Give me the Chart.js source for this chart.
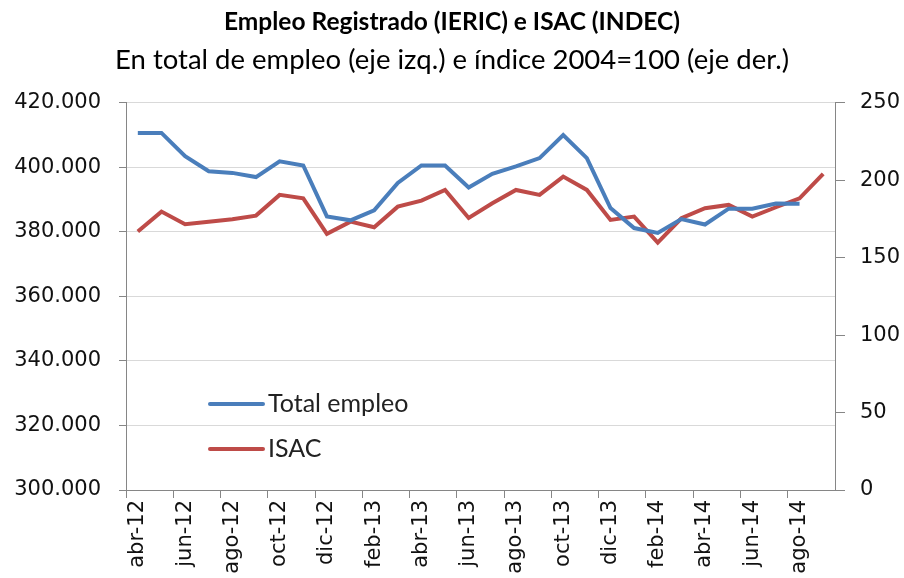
<!DOCTYPE html>
<html>
<head>
<meta charset="utf-8">
<script src="https://cdn.jsdelivr.net/npm/chart.js@4/dist/chart.umd.min.js"></script>
<style>
  html, body { margin: 0; padding: 0; background: #fff; }
  #wrap { width: 904px; height: 578px; position: relative; }
</style>
</head>
<body>
<div id="wrap"><canvas id="empleoChart"></canvas></div>
<script>
const months = [
    'abr-12', 'may-12', 'jun-12', 'jul-12', 'ago-12', 'sep-12', 'oct-12', 'nov-12', 'dic-12', 'ene-13',
    'feb-13', 'mar-13', 'abr-13', 'may-13', 'jun-13', 'jul-13', 'ago-13', 'sep-13', 'oct-13', 'nov-13',
    'dic-13', 'ene-14', 'feb-14', 'mar-14', 'abr-14', 'may-14', 'jun-14', 'jul-14', 'ago-14', 'sep-14'
];

// total de empleo registrado (eje izq.)
const totalEmpleo = [
    410700, 410700, 403500, 398800, 398300, 397000, 401900, 400600, 384800, 383600,
    386700, 395200, 400600, 400600, 393800, 398000, 400300, 402900, 410000, 402900,
    387400, 381200, 379700, 384000, 382300, 387200, 387200, 388800, 388700, null
];

// ISAC, indice 2004=100 (eje der.)
const isac = [
    166.9, 179.8, 171.6, 173.3, 174.9, 177.2, 190.6, 188.4, 165.4, 173.3,
    169.7, 183.0, 186.9, 193.8, 175.7, 185.2, 193.8, 190.6, 202.4, 193.8,
    174.4, 176.6, 159.8, 175.5, 182.0, 184.1, 176.6, 182.6, 188.4, 204.1
];

const titleText = 'Empleo Registrado (IERIC) e ISAC (INDEC)';
const subtitleText = 'En total de empleo (eje izq.) e índice 2004=100 (eje der.)';

const blue = '#4a7ebb';
const red = '#be4b48';
const axisGray = '#868686';
const gridGray = '#d9d9d9';
const tickFont = { family: 'DejaVu Sans', size: 21 };

// leyenda dentro del area del grafico, como en el original
const innerLegend = {
    id: 'innerLegend',
    afterDraw(chart) {
        const ctx = chart.ctx;
        const a = chart.chartArea;
        const items = chart.data.datasets;
        ctx.save();
        ctx.font = '25px Lato';
        ctx.textBaseline = 'middle';
        items.forEach((ds, i) => {
            const y = a.top + 301 + i * 45;
            const x = a.left + 84;
            ctx.strokeStyle = ds.borderColor;
            ctx.lineWidth = 4;
            ctx.lineCap = 'round';
            ctx.beginPath();
            ctx.moveTo(x, y);
            ctx.lineTo(x + 53, y);
            ctx.stroke();
            ctx.fillStyle = '#222';
            ctx.fillText(ds.label, x + 58, y);
        });
        ctx.restore();
    }
};

const ctx = document.getElementById('empleoChart').getContext('2d');
new Chart(ctx, {
    type: 'line',
    data: {
        labels: months,
        datasets: [{
            label: 'Total empleo',
            data: totalEmpleo,
            yAxisID: 'y',
            borderColor: blue,
            backgroundColor: blue,
            borderWidth: 4,
            pointRadius: 0,
            tension: 0
        }, {
            label: 'ISAC',
            data: isac,
            yAxisID: 'y2',
            borderColor: red,
            backgroundColor: red,
            borderWidth: 4,
            pointRadius: 0,
            tension: 0
        }]
    },
    options: {
        responsive: true,
        maintainAspectRatio: false,
        animation: false,
        layout: { padding: { left: 0, right: 0, top: 0, bottom: 0 } },
        scales: {
            x: {
                offset: true,
                grid: {
                    offset: true,
                    drawOnChartArea: false,
                    tickLength: 8,
                    tickColor: c => (c.index % 2 === 0 ? axisGray : 'rgba(0,0,0,0)')
                },
                border: { color: axisGray, width: 1 },
                ticks: {
                    autoSkip: false,
                    maxRotation: 90,
                    minRotation: 90,
                    padding: 2,
                    color: '#111',
                    font: tickFont,
                    callback: function(value, index) {
                        return index % 2 === 0 ? this.getLabelForValue(value) : '';
                    }
                },
                afterFit: s => { s.height = 88; }
            },
            y: {
                position: 'left',
                min: 300000,
                max: 420000,
                grid: {
                    color: gridGray,
                    tickColor: axisGray,
                    tickLength: 7
                },
                border: { color: axisGray, width: 1 },
                ticks: {
                    stepSize: 20000,
                    padding: 18,
                    color: '#111',
                    font: tickFont,
                    callback: v => v.toLocaleString('de-DE')
                },
                afterFit: s => { s.width = 126; }
            },
            y2: {
                position: 'right',
                min: 0,
                max: 250,
                grid: {
                    drawOnChartArea: false,
                    tickColor: axisGray,
                    tickLength: 10
                },
                border: { color: axisGray, width: 1 },
                ticks: {
                    stepSize: 50,
                    padding: 15,
                    color: '#111',
                    font: tickFont
                },
                afterFit: s => { s.width = 69; }
            }
        },
        plugins: {
            legend: { display: false },
            tooltip: { enabled: false },
            title: {
                display: true,
                text: titleText,
                color: '#000',
                font: { family: 'Lato', size: 24.5, weight: 'bold' },
                padding: { top: 7, bottom: 7 }
            },
            subtitle: {
                display: true,
                text: subtitleText,
                color: '#000',
                font: { family: 'Lato', size: 27.5 },
                padding: { top: 0, bottom: 26.5 }
            }
        }
    },
    plugins: [innerLegend]
});
</script>
</body>
</html>
